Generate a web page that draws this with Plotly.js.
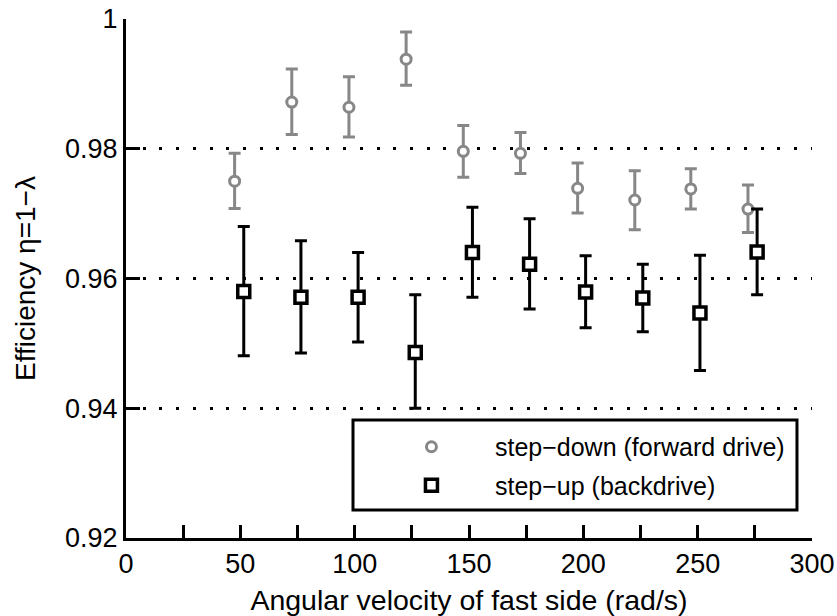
<!DOCTYPE html>
<html>
<head>
<meta charset="utf-8">
<script src="https://cdn.plot.ly/plotly-3.0.1.min.js"></script>
<style>html,body{margin:0;padding:0;background:#fff;}#chart{width:837px;height:616px;}</style>
</head>
<body>
<div id="chart"></div>
<script>
// step-down (forward drive)
const xDown = [47.5, 72.5, 97.5, 122.5, 147.5, 172.5, 197.5, 222.5, 247, 272];
const yDown = [0.9750, 0.9872, 0.9864, 0.9938, 0.9796, 0.9793, 0.9739, 0.9721, 0.9738, 0.9707];
const yDownHi = [0.9793, 0.9923, 0.9911, 0.9980, 0.9836, 0.9825, 0.9778, 0.9766, 0.9769, 0.9744];
const yDownLo = [0.9708, 0.9822, 0.9818, 0.9898, 0.9756, 0.9762, 0.9701, 0.9675, 0.9707, 0.9671];
// step-up (backdrive)
const xUp = [51.5, 76.5, 101.5, 126.5, 151.5, 176.5, 201, 226, 251, 276];
const yUp = [0.9580, 0.9571, 0.9571, 0.9486, 0.9640, 0.9622, 0.9579, 0.9570, 0.9547, 0.9641];
const yUpHi = [0.9680, 0.9658, 0.9640, 0.9575, 0.9710, 0.9692, 0.9635, 0.9622, 0.9636, 0.9707];
const yUpLo = [0.9481, 0.9485, 0.9502, 0.9400, 0.9571, 0.9553, 0.9524, 0.9518, 0.9458, 0.9575];

const xTickVals = [0, 25, 50, 75, 100, 125, 150, 175, 200, 225, 250, 275, 300];
const xTickText = ['0', '', '50', '', '100', '', '150', '', '200', '', '250', '', '300'];
const yTickVals = [0.92, 0.94, 0.96, 0.98, 1];
const yTickText = ['0.92', '0.94', '0.96', '0.98', '1'];

const seriesNames = ['step\u2212down (forward drive)', 'step\u2212up (backdrive)'];

const GRAY = '#878787';
const FONT = 'Liberation Sans, Arial, sans-serif';

const traces = [
  {
    x: xDown, y: yDown, type: 'scatter', mode: 'markers', name: seriesNames[0],
    legendgroup: 'a',
    marker: {symbol: 'circle', size: 10, color: '#ffffff', line: {color: GRAY, width: 3}},
    error_y: {type: 'data', symmetric: false,
      array: yDownHi.map((v, i) => v - yDown[i]),
      arrayminus: yDown.map((v, i) => v - yDownLo[i]),
      color: GRAY, thickness: 3, width: 6}
  },
  {
    x: xUp, y: yUp, type: 'scatter', mode: 'markers', name: seriesNames[1],
    legendgroup: 'b',
    marker: {symbol: 'square', size: 12, color: '#ffffff', line: {color: '#000000', width: 3.5}},
    error_y: {type: 'data', symmetric: false,
      array: yUpHi.map((v, i) => v - yUp[i]),
      arrayminus: yUp.map((v, i) => v - yUpLo[i]),
      color: '#000000', thickness: 3, width: 6}
  }
];

const layout = {
  width: 837, height: 616,
  margin: {l: 126, r: 25, t: 19, b: 78},
  paper_bgcolor: '#ffffff', plot_bgcolor: '#ffffff',
  font: {family: FONT, color: '#000000', size: 27},
  showlegend: true,
  legend: {
    x: 0.3527, xanchor: 'left', y: 0.2197, yanchor: 'top',
    bgcolor: 'rgba(0,0,0,0)', borderwidth: 0,
    font: {family: FONT, size: 25, color: '#000000'},
    itemwidth: 117, traceorder: 'grouped', tracegroupgap: 3
  },
  xaxis: {
    range: [0, 300], tickmode: 'array', tickvals: xTickVals, ticktext: xTickText,
    ticks: 'inside', ticklen: 13, tickwidth: 3, tickcolor: '#000000',
    showline: true, linewidth: 3, linecolor: '#000000',
    showgrid: false, zeroline: false,
    tickfont: {family: FONT, size: 27, color: '#000000'},
    title: {text: 'Angular velocity of fast side (rad/s)', font: {family: FONT, size: 28.5, color: '#000000'}, standoff: 12}
  },
  yaxis: {
    range: [0.92, 1], tickmode: 'array', tickvals: yTickVals, ticktext: yTickText,
    ticks: 'inside', ticklen: 14, tickwidth: 3, tickcolor: '#000000',
    showline: true, linewidth: 3, linecolor: '#000000',
    showgrid: true, gridcolor: '#000000', gridwidth: 3, griddash: '3px,13.7px',
    zeroline: false,
    tickfont: {family: FONT, size: 27, color: '#000000'},
    title: {text: 'Efficiency \u03b7=1\u2212\u03bb', font: {family: FONT, size: 28, color: '#000000'}, standoff: 22}
  },
  shapes: [{
    type: 'rect', xref: 'paper', yref: 'paper',
    x0: 0.3309, x1: 0.9781, y0: 0.054, y1: 0.2274,
    line: {color: '#000000', width: 3}, fillcolor: '#ffffff', layer: 'above'
  }]
};

Plotly.newPlot('chart', traces, layout, {displayModeBar: false, staticPlot: true});
</script>
</body>
</html>
